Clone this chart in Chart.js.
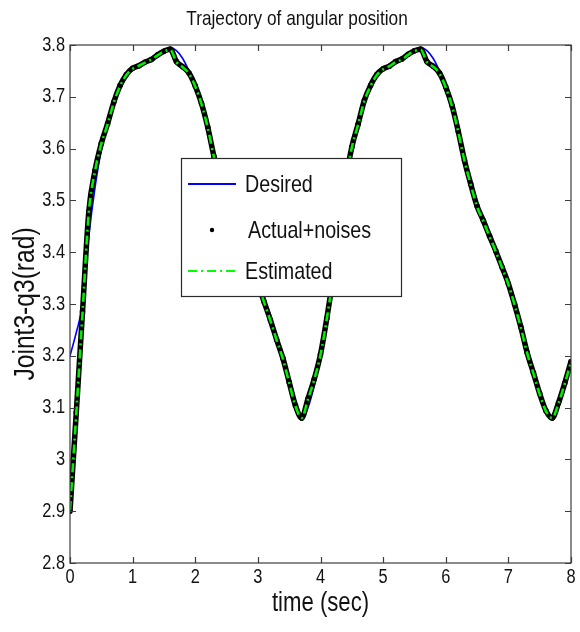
<!DOCTYPE html>
<html>
<head>
<meta charset="utf-8">
<script src="https://cdn.jsdelivr.net/npm/chart.js@4.4.1/dist/chart.umd.min.js"></script>
<style>
  html, body { margin: 0; padding: 0; background: #fff; }
  #wrap { width: 580px; height: 632px; }
</style>
</head>
<body>
<div id="wrap"><canvas id="trajectoryChart" width="580" height="632"></canvas></div>
<script>
const FONT = "'Liberation Sans', Arial, sans-serif";
const NARROW = 0.82; // matlab export looks horizontally condensed

// time axis (sec)
const timeSec = [
    0.0, 0.1, 0.2, 0.3, 0.4, 0.5, 0.6, 0.7, 0.8, 0.9,
    1.0, 1.1, 1.2, 1.3, 1.4, 1.5, 1.6, 1.7, 1.8, 1.9,
    2.0, 2.1, 2.2, 2.3, 2.4, 2.5, 2.6, 2.7, 2.8, 2.9,
    3.0, 3.1, 3.2, 3.3, 3.4, 3.5, 3.6, 3.7, 3.8, 3.9,
    4.0, 4.1, 4.2, 4.3, 4.4, 4.5, 4.6, 4.7, 4.8, 4.9,
    5.0, 5.1, 5.2, 5.3, 5.4, 5.5, 5.6, 5.7, 5.8, 5.9,
    6.0, 6.1, 6.2, 6.3, 6.4, 6.5, 6.6, 6.7, 6.8, 6.9,
    7.0, 7.1, 7.2, 7.3, 7.4, 7.5, 7.6, 7.7, 7.8, 7.9,
    8.0
];

// reference trajectory q3 (rad)
const desired = [
    3.200, 3.245, 3.300, 3.430, 3.525, 3.597, 3.645, 3.690, 3.720, 3.742,
    3.754, 3.761, 3.766, 3.773, 3.780, 3.788, 3.795, 3.789, 3.774, 3.750,
    3.722, 3.686, 3.640, 3.585, 3.535, 3.492, 3.460, 3.432, 3.402, 3.372,
    3.338, 3.305, 3.268, 3.232, 3.194, 3.150, 3.108, 3.083, 3.100, 3.142,
    3.200, 3.268, 3.348, 3.442, 3.532, 3.601, 3.646, 3.692, 3.721, 3.742,
    3.753, 3.760, 3.767, 3.774, 3.781, 3.789, 3.795, 3.789, 3.774, 3.750,
    3.720, 3.682, 3.634, 3.578, 3.530, 3.490, 3.460, 3.432, 3.401, 3.372,
    3.338, 3.300, 3.254, 3.207, 3.166, 3.128, 3.096, 3.083, 3.100, 3.140,
    3.190
];

// measured q3 with noise
const actual = [
    2.900, 3.090, 3.285, 3.478, 3.558, 3.610, 3.648, 3.690, 3.722, 3.743,
    3.755, 3.760, 3.767, 3.772, 3.781, 3.788, 3.792, 3.768, 3.758, 3.746,
    3.721, 3.687, 3.641, 3.584, 3.536, 3.491, 3.461, 3.431, 3.403, 3.371,
    3.339, 3.304, 3.269, 3.231, 3.195, 3.149, 3.104, 3.080, 3.117, 3.155,
    3.203, 3.272, 3.352, 3.448, 3.536, 3.603, 3.647, 3.693, 3.722, 3.743,
    3.754, 3.759, 3.768, 3.773, 3.782, 3.789, 3.792, 3.768, 3.759, 3.746,
    3.719, 3.683, 3.633, 3.577, 3.531, 3.489, 3.461, 3.431, 3.402, 3.371,
    3.339, 3.299, 3.255, 3.206, 3.167, 3.127, 3.094, 3.080, 3.109, 3.147,
    3.189
];

// observer estimate
const estimated = [
    2.902, 3.088, 3.283, 3.476, 3.557, 3.609, 3.647, 3.689, 3.721, 3.742,
    3.754, 3.760, 3.766, 3.772, 3.780, 3.787, 3.791, 3.767, 3.757, 3.745,
    3.720, 3.686, 3.640, 3.583, 3.535, 3.490, 3.460, 3.430, 3.402, 3.370,
    3.338, 3.303, 3.268, 3.230, 3.194, 3.148, 3.103, 3.080, 3.116, 3.154,
    3.202, 3.271, 3.351, 3.447, 3.535, 3.602, 3.646, 3.692, 3.721, 3.742,
    3.753, 3.759, 3.767, 3.772, 3.781, 3.788, 3.791, 3.767, 3.758, 3.745,
    3.718, 3.682, 3.632, 3.576, 3.530, 3.488, 3.460, 3.430, 3.401, 3.370,
    3.338, 3.298, 3.254, 3.205, 3.166, 3.126, 3.093, 3.080, 3.108, 3.146,
    3.188
];

const xTicks = [0, 1, 2, 3, 4, 5, 6, 7, 8];
const yTicks = [2.8, 2.9, 3.0, 3.1, 3.2, 3.3, 3.4, 3.5, 3.6, 3.7, 3.8];

const toPoints = (ys) => timeSec.map((t, i) => ({ x: t, y: ys[i] }));

// condensed text: plain fillText in a horizontally squeezed context
function narrowText(ctx, text, x, y, size, align, rotate) {
    ctx.save();
    ctx.translate(x, y);
    if (rotate) ctx.rotate(-Math.PI / 2);
    ctx.scale(NARROW, 1);
    ctx.font = size + "px " + FONT;
    ctx.fillStyle = "#111";
    ctx.textAlign = align;
    ctx.textBaseline = "middle";
    ctx.fillText(text, 0, 0);
    ctx.restore();
}

// box around the axes, inward ticks on all four sides, labels and the legend box
const matlabAxesPlugin = {
    id: "matlabAxes",
    afterDraw(chart) {
        const { ctx, chartArea: a, scales } = chart;
        const tick = 6;
        ctx.save();
        ctx.strokeStyle = "#3c3c3c";
        ctx.lineWidth = 1.2;
        ctx.strokeRect(a.left, a.top, a.right - a.left, a.bottom - a.top);
        ctx.beginPath();
        xTicks.forEach((v) => {
            const px = Math.round(scales.x.getPixelForValue(v)) + 0.5;
            ctx.moveTo(px, a.bottom); ctx.lineTo(px, a.bottom - tick);
            ctx.moveTo(px, a.top); ctx.lineTo(px, a.top + tick);
        });
        yTicks.forEach((v) => {
            const py = Math.round(scales.y.getPixelForValue(v)) + 0.5;
            ctx.moveTo(a.left, py); ctx.lineTo(a.left + tick, py);
            ctx.moveTo(a.right, py); ctx.lineTo(a.right - tick, py);
        });
        ctx.stroke();

        // tick labels and titles
        xTicks.forEach((v) => {
            narrowText(ctx, String(v), scales.x.getPixelForValue(v), a.bottom + 14, 20, "center");
        });
        yTicks.forEach((v) => {
            narrowText(ctx, String(Math.round(v * 10) / 10), a.left - 5, scales.y.getPixelForValue(v), 20, "right");
        });
        narrowText(ctx, "Trajectory of angular position", 297, 19, 21, "center");
        narrowText(ctx, "time (sec)", (a.left + a.right) / 2, 604, 27, "center");
        narrowText(ctx, "Joint3-q3(rad)", 26, (a.top + a.bottom) / 2, 30, "center", true);

        // legend
        const bx = 181, by = 158, bw = 220, bh = 138;
        ctx.fillStyle = "#fff";
        ctx.fillRect(bx, by, bw, bh);
        ctx.strokeStyle = "#2a2a2a";
        ctx.lineWidth = 1.2;
        ctx.strokeRect(bx + 0.5, by + 0.5, bw, bh);

        const rows = [
            { label: "Desired", y: by + 26, kind: "line" },
            { label: "Actual+noises", y: by + 72, kind: "dot" },
            { label: "Estimated", y: by + 113, kind: "dashdot" },
        ];
        rows.forEach((r) => {
            ctx.save();
            if (r.kind === "line") {
                ctx.strokeStyle = "#0000ff";
                ctx.lineWidth = 2;
                ctx.beginPath(); ctx.moveTo(188, r.y); ctx.lineTo(236, r.y); ctx.stroke();
            } else if (r.kind === "dot") {
                ctx.fillStyle = "#000";
                ctx.beginPath(); ctx.arc(212, r.y, 2.2, 0, Math.PI * 2); ctx.fill();
            } else {
                ctx.strokeStyle = "#00ff00";
                ctx.lineWidth = 2;
                ctx.setLineDash([9, 4, 2, 4]);
                ctx.beginPath(); ctx.moveTo(188, r.y); ctx.lineTo(236, r.y); ctx.stroke();
            }
            ctx.restore();
            narrowText(ctx, r.label, r.kind === "dot" ? 248 : 245, r.y + 1, 24, "left");
        });
        ctx.restore();
    }
};

const ctx = document.getElementById("trajectoryChart").getContext("2d");

new Chart(ctx, {
    type: "line",
    data: {
        datasets: [
            {
                label: "Estimated",
                data: toPoints(estimated),
                borderColor: "#00ee00",
                borderWidth: 2.6,
                borderDash: [9, 4, 2, 4],
                pointRadius: 0,
                cubicInterpolationMode: "monotone",
                order: 1,
            },
            {
                label: "Actual+noises",
                data: toPoints(actual),
                borderColor: "#000000",
                backgroundColor: "#000000",
                borderWidth: 5.5,
                pointRadius: 2.8,
                pointBorderWidth: 0,
                cubicInterpolationMode: "monotone",
                order: 2,
            },
            {
                label: "Desired",
                data: toPoints(desired),
                borderColor: "#0000ff",
                borderWidth: 1.6,
                pointRadius: 0,
                cubicInterpolationMode: "monotone",
                order: 3,
            },
        ]
    },
    options: {
        responsive: false,
        animation: false,
        layout: { padding: { top: 45, right: 9, bottom: 0, left: 0 } },
        plugins: {
            legend: { display: false },
            tooltip: { enabled: false },
            title: { display: false },
        },
        scales: {
            x: {
                type: "linear",
                min: 0,
                max: 8,
                afterFit: (scale) => { scale.height = 69; },
                afterBuildTicks: (scale) => { scale.ticks = xTicks.map((v) => ({ value: v })); },
                grid: { display: false, drawTicks: false },
                border: { display: false },
                ticks: { display: false },
            },
            y: {
                min: 2.8,
                max: 3.8,
                afterFit: (scale) => { scale.width = 70; },
                afterBuildTicks: (scale) => { scale.ticks = yTicks.map((v) => ({ value: v })); },
                grid: { display: false, drawTicks: false },
                border: { display: false },
                ticks: { display: false },
            },
        },
    },
    plugins: [matlabAxesPlugin],
});
</script>
</body>
</html>
